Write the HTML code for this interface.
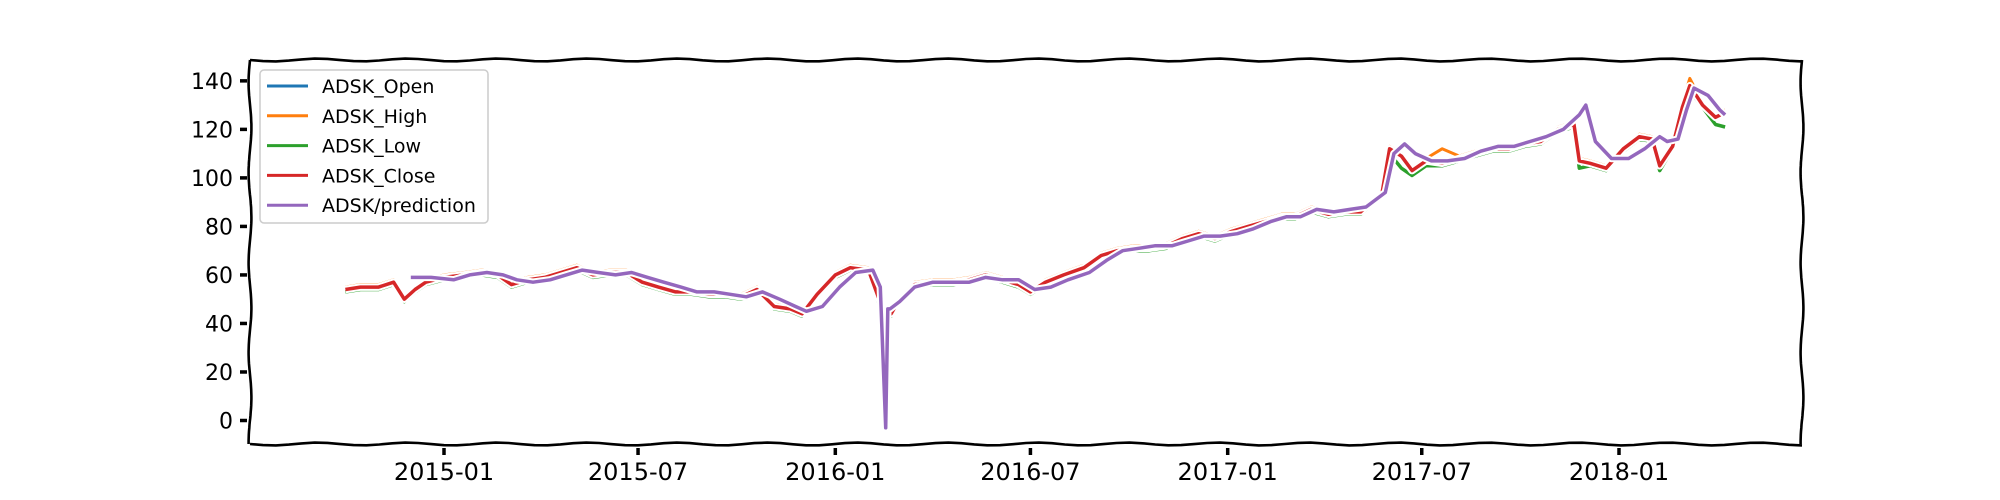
<!DOCTYPE html>
<html><head><meta charset="utf-8"><style>
html,body{margin:0;padding:0;background:#fff;}
svg{display:block;font-family:"DejaVu Sans","Liberation Sans",sans-serif;}
</style></head><body>
<svg id="chart" width="2000" height="500" viewBox="0 0 2000 500" xmlns="http://www.w3.org/2000/svg">
<g id="plot"></g>
<g id="axes"></g>
<g id="legend"></g>
</svg>
<script>
const dates = ["2014-10-01","2014-10-15","2014-11-01","2014-11-15","2014-11-25","2014-12-05","2014-12-15","2015-01-01","2015-01-20","2015-02-05","2015-02-20","2015-03-05","2015-03-20","2015-04-05","2015-04-20","2015-05-05","2015-05-20","2015-06-05","2015-06-20","2015-07-05","2015-07-20","2015-08-05","2015-08-20","2015-09-05","2015-09-20","2015-10-05","2015-10-20","2015-11-05","2015-11-20","2015-12-01","2015-12-15","2016-01-01","2016-01-15","2016-02-01","2016-02-10","2016-02-16","2016-02-22","2016-03-01","2016-03-15","2016-04-01","2016-04-20","2016-05-05","2016-05-20","2016-06-05","2016-06-20","2016-07-01","2016-07-15","2016-08-01","2016-08-20","2016-09-05","2016-09-20","2016-10-05","2016-10-20","2016-11-05","2016-11-20","2016-12-05","2016-12-20","2017-01-05","2017-01-20","2017-02-05","2017-02-20","2017-03-05","2017-03-20","2017-04-05","2017-04-20","2017-05-05","2017-05-25","2017-06-01","2017-06-12","2017-06-22","2017-07-05","2017-07-20","2017-08-05","2017-08-20","2017-09-05","2017-09-20","2017-10-05","2017-10-20","2017-11-05","2017-11-20","2017-11-25","2017-12-05","2017-12-20","2018-01-05","2018-01-20","2018-02-01","2018-02-08","2018-02-20","2018-03-01","2018-03-08","2018-03-20","2018-04-01","2018-04-10"];
const closeVals = [54,55,55,57,50,54,57,59,60,61,60,56,58,59,61,63,60,61,61,57,55,53,53,52,52,51,54,47,46,44,52,60,63,62,51,45,44,50,56,57,57,58,60,58,56,53,57,60,63,68,70,71,71,72,75,77,75,78,80,82,84,84,87,85,86,86,94,112,109,103,107,106,108,110,112,112,114,115,120,122,107,106,104,112,117,116,105,113,129,138,130,125,127];
const highVals = [55,56,56,58,51,55,58,60,61,62,61,57,59,60,62,64,61,62,62,58,56,54,54,53,53,52,55,48,47,45,53,61,64,63,52,46,45,51,57,58,58,59,61,59,57,54,58,61,64,69,71,72,72,73,76,78,76,79,81,83,85,85,88,86,87,87,95,113,110,104,108,112,109,111,113,113,115,116,121,123,108,107,105,113,118,117,106,114,131,141,131,126,128];
const lowVals = [53,54,54,56,49,53,56,58,59,60,59,55,57,58,60,62,59,60,60,56,54,52,52,51,51,50,53,46,45,43,51,59,62,61,49,44,43,49,55,56,56,57,59,57,55,52,56,59,62,67,69,70,70,71,74,76,74,77,79,81,83,83,86,84,85,85,93,110,104,101,105,105,107,109,111,111,113,114,119,121,104,105,103,111,116,115,103,112,127,136,129,122,121];
const openVals = [54,55,55,57,51,54,57,59,60,61,60,57,58,59,61,63,60,61,61,57,55,53,53,52,52,51,54,47,46,44,52,60,63,62,52,45,44,50,55,57,57,58,60,58,56,53,57,60,63,67,70,71,71,72,75,77,75,78,80,82,84,84,87,85,86,86,93,111,109,103,107,106,108,110,112,112,114,115,120,122,108,106,104,112,117,116,106,113,128,138,130,125,127];
const predDates = ["2014-12-01","2014-12-20","2015-01-10","2015-01-25","2015-02-10","2015-02-25","2015-03-10","2015-03-25","2015-04-10","2015-04-25","2015-05-10","2015-05-25","2015-06-10","2015-06-25","2015-07-10","2015-07-25","2015-08-10","2015-08-25","2015-09-10","2015-09-25","2015-10-10","2015-10-25","2015-11-10","2015-11-25","2015-12-05","2015-12-20","2016-01-05","2016-01-20","2016-02-05","2016-02-12","2016-02-17","2016-02-19","2016-02-21","2016-03-01","2016-03-15","2016-04-01","2016-04-20","2016-05-05","2016-05-20","2016-06-05","2016-06-20","2016-07-05","2016-07-20","2016-08-05","2016-08-25","2016-09-10","2016-09-25","2016-10-10","2016-10-25","2016-11-10","2016-11-25","2016-12-10","2016-12-25","2017-01-10","2017-01-25","2017-02-10","2017-02-25","2017-03-10","2017-03-25","2017-04-10","2017-04-25","2017-05-10","2017-05-28","2017-06-05","2017-06-15","2017-06-25","2017-07-10","2017-07-25","2017-08-10","2017-08-25","2017-09-10","2017-09-25","2017-10-10","2017-10-25","2017-11-10","2017-11-25","2017-12-01","2017-12-10","2017-12-25","2018-01-10","2018-01-25","2018-02-08","2018-02-15","2018-02-25","2018-03-05","2018-03-12","2018-03-25","2018-04-05","2018-04-10"];
const predVals = [59,59,58,60,61,60,58,57,58,60,62,61,60,61,59,57,55,53,53,52,51,53,50,47,45,47,55,61,62,55,-3,46,46,49,55,57,57,57,59,58,58,54,55,58,61,66,70,71,72,72,74,76,76,77,79,82,84,84,87,86,87,88,94,110,114,110,107,107,108,111,113,113,115,117,120,126,130,115,108,108,112,117,115,116,128,137,134,128,126];

function xs(d){ return 444 + (Date.parse(d) - Date.parse("2015-01-01"))/86400000 * (1175/1096); }
function ys(v){ return 420.5 - v*2.426; }
const NS = "http://www.w3.org/2000/svg";
function mk(tag, attrs, parent){ const e=document.createElementNS(NS,tag); for(const k in attrs) e.setAttribute(k,attrs[k]); parent.appendChild(e); return e; }
const plot = document.getElementById('plot');
function series(ds, vs, color, name, w){
  const d = vs.map((v,i)=>(i?'L':'M')+xs(ds[i]).toFixed(1)+' '+ys(v).toFixed(1)).join(' ');
  const bg = mk('path',{d:d,fill:'none',stroke:'#fff','stroke-width':w+4,'stroke-linejoin':'round'},plot);
  
  
  const p = mk('path',{d:d,fill:'none',stroke:color,'stroke-width':w,'stroke-linejoin':'round'},plot);
  
  
}
series(dates, openVals, '#1f77b4', 'open-line', 3);
series(dates, highVals, '#ff7f0e', 'high-line', 3);
series(dates, lowVals, '#2ca02c', 'low-line', 3.5);
series(dates, closeVals, '#d62728', 'close-line', 3.5);
series(predDates, predVals, '#9467bd', 'prediction-line', 3.5);

const axes = document.getElementById('axes');
function wob(x1,y1,x2,y2,amp,per){
  let s='';const n=120;
  for(let i=0;i<=n;i++){const t=i/n;const x=x1+(x2-x1)*t,y=y1+(y2-y1)*t;const L=Math.hypot(x2-x1,y2-y1);const w=amp*Math.sin(t*L/per*2*Math.PI);
    const nx=-(y2-y1)/L, ny=(x2-x1)/L; s+=(i?'L':'M')+(x+nx*w).toFixed(1)+' '+(y+ny*w).toFixed(1);}
  return s;
}
const borders=[["top-border",250,60,1802,60],["bottom-border",250,444,1802,444],["left-border",250,60,250,444],["right-border",1802,60,1802,444]];
borders.forEach(b=>{const p=mk('path',{d:wob(b[1],b[2],b[3],b[4],1.4,90),fill:'none',stroke:'#000','stroke-width':2.6},axes);
  
  });
const yTicks = [0,20,40,60,80,100,120,140];
yTicks.forEach(v=>{const y=ys(v);
  const t=mk('line',{x1:240,x2:247,y1:y,y2:y,stroke:'#000','stroke-width':3.5},axes);
  
  
  const l=mk('text',{x:233,y:y+8,'text-anchor':'end','font-size':22},axes); l.textContent=v;
  
  });
const xTicks = ["2015-01","2015-07","2016-01","2016-07","2017-01","2017-07","2018-01"];
xTicks.forEach(s=>{const x=xs(s+"-01");
  const t=mk('line',{x1:x,x2:x,y1:448,y2:455,stroke:'#000','stroke-width':3.5},axes);
  
  
  const l=mk('text',{x:x,y:480,'text-anchor':'middle','font-size':24},axes); l.textContent=s;
  
  });

const lg = document.getElementById('legend');
const fr = mk('rect',{x:260,y:70,width:228,height:153,rx:4,fill:'#fff','fill-opacity':0.8,stroke:'#ccc','stroke-width':1.5},lg);


const legNames = ["ADSK_Open","ADSK_High","ADSK_Low","ADSK_Close","ADSK/prediction"];
const legColors = ['#1f77b4','#ff7f0e','#2ca02c','#d62728','#9467bd'];
legNames.forEach((n,i)=>{const y=86+i*29.8;
  const g=mk('g',{},lg);
  
  
  mk('line',{x1:267,x2:308,y1:y,y2:y,stroke:legColors[i],'stroke-width':3},g);
  const t=mk('text',{x:322,y:y+7,'font-size':19},g); t.textContent=n;});
</script>
</body></html>
